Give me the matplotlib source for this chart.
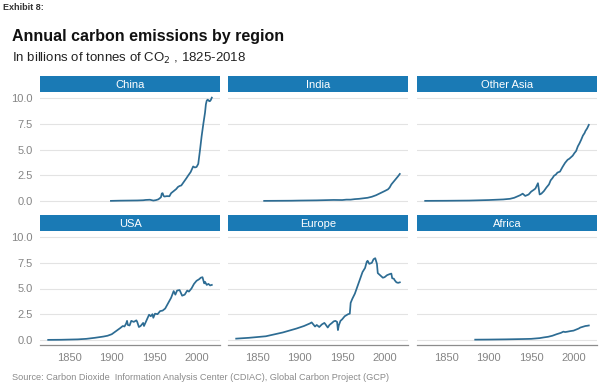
import matplotlib
matplotlib.use("Agg")
import matplotlib.pyplot as plt

plt.rcParams['font.family'] = ['Liberation Sans', 'DejaVu Sans']

regions = ["China", "India", "Other Asia", "USA", "Europe", "Africa"]

china_years = [1899, 1910, 1920, 1930, 1937, 1940, 1945, 1949, 1952, 1955, 1958, 1959, 1960, 1961,
               1962, 1965, 1968, 1970, 1973, 1976, 1978, 1980, 1982, 1985, 1988, 1990, 1993, 1996,
               1998, 2000, 2002, 2004, 2006, 2008, 2010, 2011, 2012, 2013, 2014, 2015, 2016, 2017, 2018]
china_vals = [0.0, 0.02, 0.03, 0.04, 0.06, 0.09, 0.11, 0.03, 0.07, 0.15, 0.35, 0.72, 0.75, 0.5,
              0.42, 0.46, 0.45, 0.75, 0.95, 1.15, 1.35, 1.45, 1.5, 1.85, 2.2, 2.45, 2.8, 3.35,
              3.25, 3.3, 3.6, 4.9, 6.3, 7.5, 8.6, 9.4, 9.75, 9.85, 9.8, 9.7, 9.72, 9.85, 10.05]

india_years = [1858, 1870, 1880, 1890, 1900, 1910, 1920, 1930, 1940, 1950, 1955, 1960, 1965, 1970,
               1975, 1980, 1985, 1990, 1995, 2000, 2004, 2006, 2008, 2010, 2012, 2014, 2016, 2018]
india_vals = [0.0, 0.005, 0.01, 0.015, 0.03, 0.04, 0.05, 0.07, 0.09, 0.08, 0.12, 0.12, 0.17, 0.2,
              0.25, 0.3, 0.4, 0.55, 0.75, 0.95, 1.12, 1.3, 1.6, 1.8, 2.0, 2.2, 2.4, 2.62]

oasia_years = [1825, 1850, 1877, 1900, 1917, 1925, 1930, 1937, 1940, 1943, 1945, 1947, 1950, 1953,
               1955, 1958, 1960, 1962, 1965, 1968, 1971, 1973, 1975, 1977, 1979, 1981, 1984, 1987,
               1990, 1993, 1995, 1997, 1999, 2001, 2003, 2005, 2007, 2009, 2011, 2013, 2014, 2016, 2018]
oasia_vals = [0.0, 0.01, 0.03, 0.08, 0.14, 0.2, 0.3, 0.55, 0.7, 0.48, 0.55, 0.62, 0.9, 1.07,
              1.2, 1.72, 0.62, 0.7, 0.95, 1.3, 1.6, 2.0, 2.2, 2.45, 2.55, 2.75, 2.85, 3.3,
              3.7, 4.0, 4.1, 4.25, 4.4, 4.65, 4.85, 5.3, 5.6, 5.95, 6.35, 6.6, 6.8, 7.05, 7.4]

usa_years = [1825, 1840, 1850, 1860, 1870, 1880, 1890, 1895, 1900, 1905, 1910, 1913, 1915, 1917,
             1918, 1919, 1921, 1923, 1926, 1929, 1930, 1932, 1934, 1937, 1938, 1941, 1944, 1946,
             1948, 1949, 1951, 1954, 1957, 1960, 1963, 1966, 1970, 1973, 1975, 1977, 1980, 1983,
             1986, 1989, 1991, 1994, 1997, 2000, 2003, 2005, 2007, 2009, 2010, 2012, 2014, 2016, 2018]
usa_vals = [0.0, 0.01, 0.03, 0.05, 0.1, 0.2, 0.32, 0.4, 0.55, 0.85, 1.15, 1.35, 1.3, 1.6,
            1.85, 1.45, 1.4, 1.85, 1.75, 1.9, 1.75, 1.25, 1.35, 1.65, 1.35, 1.9, 2.45, 2.3,
            2.5, 2.15, 2.55, 2.5, 2.8, 2.85, 3.05, 3.5, 4.1, 4.75, 4.4, 4.8, 4.85, 4.3,
            4.4, 4.8, 4.7, 5.0, 5.45, 5.75, 5.9, 6.05, 6.1, 5.5, 5.65, 5.35, 5.45, 5.3, 5.35]

europe_years = [1825, 1840, 1860, 1880, 1896, 1905, 1912, 1914, 1918, 1920, 1923, 1926, 1929, 1930,
                1933, 1935, 1938, 1940, 1942, 1944, 1945, 1946, 1948, 1950, 1953, 1957, 1959, 1960,
                1962, 1965, 1968, 1971, 1974, 1977, 1979, 1980, 1982, 1985, 1987, 1989, 1991, 1992,
                1994, 1996, 1998, 2000, 2003, 2006, 2008, 2009, 2011, 2012, 2014, 2016, 2018]
europe_vals = [0.12, 0.2, 0.35, 0.72, 1.1, 1.35, 1.6, 1.7, 1.3, 1.45, 1.25, 1.5, 1.65, 1.55,
               1.2, 1.45, 1.65, 1.8, 1.85, 1.75, 0.95, 1.4, 1.85, 2.0, 2.3, 2.5, 2.55, 3.6,
               4.0, 4.5, 5.2, 5.9, 6.6, 7.0, 7.6, 7.7, 7.4, 7.5, 7.85, 7.95, 7.4, 6.5,
               6.35, 6.2, 6.05, 6.1, 6.3, 6.4, 6.45, 6.0, 5.95, 5.8, 5.6, 5.55, 5.6]

africa_years = [1884, 1900, 1920, 1940, 1950, 1960, 1965, 1970, 1975, 1980, 1985, 1988, 1990, 1993,
                1996, 2000, 2003, 2006, 2008, 2010, 2012, 2014, 2016, 2018]
africa_vals = [0.02, 0.03, 0.05, 0.08, 0.1, 0.17, 0.24, 0.3, 0.4, 0.55, 0.68, 0.8, 0.76, 0.8,
               0.85, 0.9, 1.0, 1.1, 1.2, 1.25, 1.3, 1.35, 1.37, 1.4]

series = [(china_years, china_vals), (india_years, india_vals), (oasia_years, oasia_vals),
          (usa_years, usa_vals), (europe_years, europe_vals), (africa_years, africa_vals)]

x_ticks = [1850, 1900, 1950, 2000]
y_ticks = [0.0, 2.5, 5.0, 7.5, 10.0]
y_labels = ["0.0", "2.5", "5.0", "7.5", "10.0"]

W, H = 600, 386
strip_color = "#1a7ab5"
line_color = "#2d6c93"
tick_color = "#858585"

fig = plt.figure(figsize=(6, 3.86), dpi=100)

col_left = [40, 228, 417]
col_w = 180
row_top = [93, 232]   # pixel top of plot area
row_h = 113

for i, name in enumerate(regions):
    r, c = divmod(i, 3)
    left = col_left[c]
    top = row_top[r]
    ax = fig.add_axes([left / W, 1 - (top + row_h) / H, col_w / W, row_h / H])
    yrs, vals = series[i]
    ax.plot(yrs, vals, color=line_color, linewidth=1.25)
    ax.set_xlim(1815.35, 2027.65)
    ax.set_ylim(-0.5, 10.5)
    ax.set_yticks(y_ticks)
    ax.set_xticks(x_ticks)
    ax.grid(axis='y', color='#e3e3e3', linewidth=0.8)
    ax.set_axisbelow(True)
    for s in ax.spines.values():
        s.set_visible(False)
    ax.tick_params(axis='y', length=0, colors=tick_color, labelsize=8, pad=5)
    ax.tick_params(axis='x', length=0, colors=tick_color, labelsize=8, pad=6)
    if c == 0:
        ax.set_yticklabels(y_labels)
    else:
        ax.set_yticklabels([])
    if r == 1:
        ax.spines['bottom'].set_visible(True)
        ax.spines['bottom'].set_color('#8c8c8c')
        ax.spines['bottom'].set_linewidth(0.9)
        ax.set_xticklabels([str(t) for t in x_ticks])
    else:
        ax.set_xticklabels([])

    # strip header
    sax = fig.add_axes([left / W, 1 - (top - 1) / H, col_w / W, 16 / H])
    sax.set_facecolor(strip_color)
    sax.set_xticks([])
    sax.set_yticks([])
    for s in sax.spines.values():
        s.set_visible(False)
    sax.text(0.5, 0.45, name, color='white', fontsize=8, ha='center', va='center',
             transform=sax.transAxes)

fig.text(3 / W, 1 - 8 / H, "Exhibit 8:", fontsize=6.5, fontweight='bold', color='#333333',
         va='center', ha='left')
fig.text(12 / W, 1 - 36 / H, "Annual carbon emissions by region", fontsize=11.5,
         fontweight='bold', color='#111111', va='center', ha='left')
fig.text(12 / W, 1 - 58 / H, "In billions of tonnes of CO$_2$ , 1825-2018", fontsize=9.5,
         color='#222222', va='center', ha='left')
fig.text(12 / W, 1 - 378 / H,
         "Source: Carbon Dioxide  Information Analysis Center (CDIAC), Global Carbon Project (GCP)",
         fontsize=6.6, color='#8a8a8a', va='center', ha='left')

fig.savefig("out.png", dpi=100)
